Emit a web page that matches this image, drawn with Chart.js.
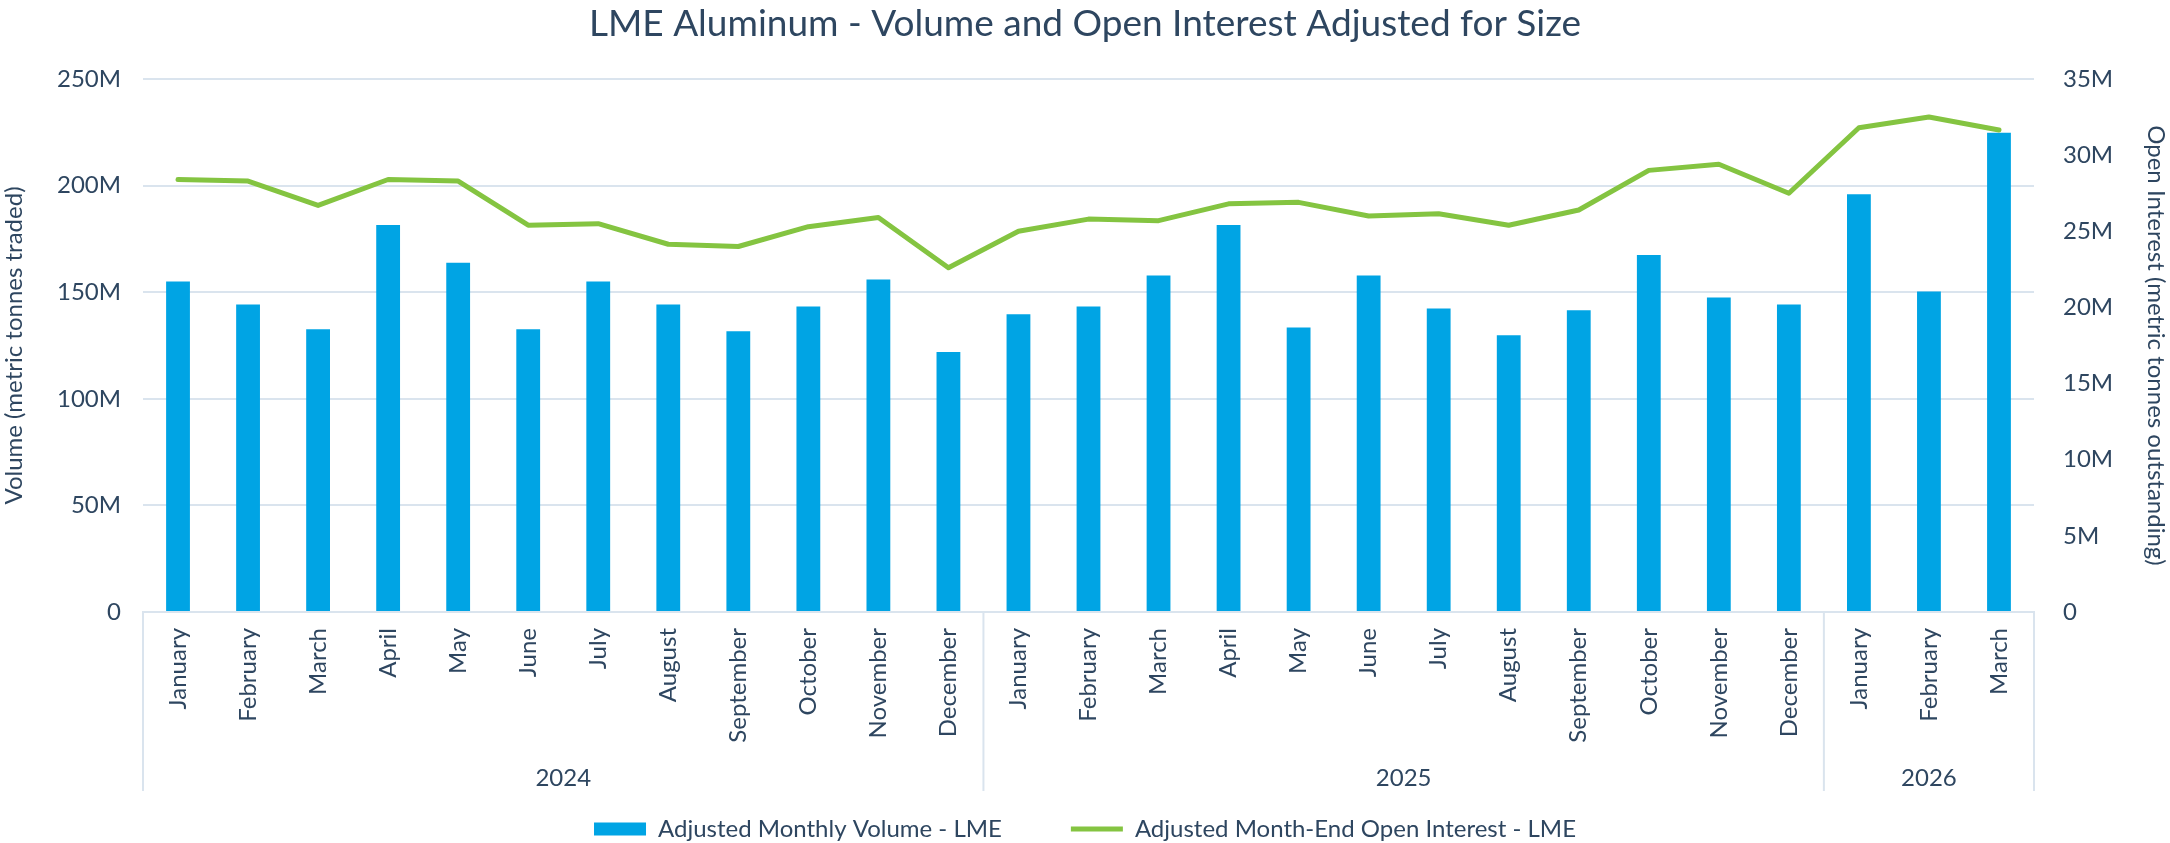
<!DOCTYPE html>
<html>
<head>
<meta charset="utf-8">
<title>LME Aluminum - Volume and Open Interest</title>
<script src="https://cdn.jsdelivr.net/npm/chart.js@4.4.1/dist/chart.umd.min.js"></script>
<style>
  html, body { margin: 0; padding: 0; background: #fff; }
  #wrap { width: 2170px; height: 843px; }
</style>
</head>
<body>
<div id="wrap"><canvas id="chart" width="2170" height="843"></canvas></div>
<script>
// month categories, with the year each one belongs to
const months = [
  'January', 'February', 'March', 'April', 'May', 'June', 'July', 'August', 'September', 'October', 'November', 'December',
  'January', 'February', 'March', 'April', 'May', 'June', 'July', 'August', 'September', 'October', 'November', 'December',
  'January', 'February', 'March'
];
const years = ['2024', '2025', '2026'];
const monthsPerYear = [12, 12, 3];

// Adjusted monthly volume (metric tonnes traded)
const volume = [
  155.0e6, 144.2e6, 132.6e6, 181.5e6, 163.8e6, 132.6e6, 155.0e6, 144.2e6, 131.7e6, 143.3e6, 155.9e6, 121.9e6,
  139.6e6, 143.3e6, 157.8e6, 181.5e6, 133.5e6, 157.8e6, 142.4e6, 129.8e6, 141.5e6, 167.5e6, 147.5e6, 144.2e6,
  196.0e6, 150.3e6, 224.8e6
];

// Adjusted month-end open interest (metric tonnes outstanding)
const openInterest = [
  28.4e6, 28.3e6, 26.7e6, 28.4e6, 28.3e6, 25.4e6, 25.5e6, 24.15e6, 24.0e6, 25.3e6, 25.9e6, 22.6e6,
  25.0e6, 25.8e6, 25.7e6, 26.8e6, 26.9e6, 26.0e6, 26.15e6, 25.4e6, 26.4e6, 29.0e6, 29.4e6, 27.5e6,
  31.8e6, 32.5e6, 31.65e6
];

const TEXT = '#2e4660';
const GRID = '#dae4ee';

Chart.defaults.font.family = 'Lato';
Chart.defaults.color = TEXT;

const fmtM = (v) => v === 0 ? '0' : (v / 1e6) + 'M';

// second row of the category axis: year names and group separators
const yearGroups = {
  id: 'yearGroups',
  afterDraw(chart) {
    const x = chart.scales.x;
    const ctx = chart.ctx;
    const top = chart.chartArea.bottom;
    const bottom = top + 179;
    const half = (x.getPixelForValue(1) - x.getPixelForValue(0)) / 2;

    ctx.save();
    ctx.strokeStyle = GRID;
    ctx.lineWidth = 2;
    ctx.fillStyle = TEXT;
    ctx.font = '24px Lato';
    ctx.textAlign = 'center';
    ctx.textBaseline = 'middle';

    let start = 0;
    years.forEach((yr, i) => {
      const end = start + monthsPerYear[i] - 1;
      const left = x.getPixelForValue(start) - half;
      const right = x.getPixelForValue(end) + half;
      ctx.beginPath();
      ctx.moveTo(left, top);
      ctx.lineTo(left, bottom);
      if (i === years.length - 1) {
        ctx.moveTo(right, top);
        ctx.lineTo(right, bottom);
      }
      ctx.stroke();
      ctx.fillText(yr, (left + right) / 2, top + 166);
      start = end + 1;
    });
    ctx.restore();
  }
};

new Chart(document.getElementById('chart'), {
  type: 'bar',
  data: {
    labels: months,
    datasets: [
      {
        label: 'Adjusted Monthly Volume - LME',
        data: volume,
        backgroundColor: '#00a4e4',
        borderWidth: 0,
        barPercentage: 0.34,
        categoryPercentage: 1,
        pointStyle: 'rect',
        yAxisID: 'y',
        order: 1
      },
      {
        type: 'line',
        label: 'Adjusted Month-End Open Interest - LME',
        data: openInterest,
        borderColor: '#84c441',
        backgroundColor: '#84c441',
        borderWidth: 5,
        borderCapStyle: 'round',
        borderJoinStyle: 'round',
        pointRadius: 0,
        pointStyle: 'line',
        tension: 0,
        yAxisID: 'y1',
        order: 0
      }
    ]
  },
  options: {
    responsive: false,
    animation: false,
    layout: { padding: { left: 0, right: 0, top: 0, bottom: -8 } },
    plugins: {
      title: {
        display: true,
        text: 'LME Aluminum - Volume and Open Interest Adjusted for Size',
        color: TEXT,
        font: { size: 37, weight: 'normal' },
        padding: { top: 2, bottom: 32.6 }
      },
      legend: {
        position: 'bottom',
        labels: {
          usePointStyle: true,
          pointStyleWidth: 52,
          boxHeight: 13,
          padding: 69,
          color: TEXT,
          font: { size: 24 },
          sort: (a, b) => a.datasetIndex - b.datasetIndex
        }
      },
      tooltip: { enabled: false }
    },
    scales: {
      x: {
        offset: true,
        grid: { display: false, drawTicks: false },
        border: { display: true, color: GRID, width: 2 },
        ticks: {
          autoSkip: false,
          minRotation: 90,
          maxRotation: 90,
          padding: 16,
          color: TEXT,
          font: { size: 24 }
        },
        afterFit: (s) => { s.height = 136; }
      },
      y: {
        position: 'left',
        min: 0,
        max: 250e6,
        ticks: { stepSize: 50e6, padding: 22, color: TEXT, font: { size: 24 }, callback: fmtM },
        grid: { color: GRID, lineWidth: 2, drawTicks: false },
        border: { display: false },
        title: {
          display: true,
          text: 'Volume (metric tonnes traded)',
          color: TEXT,
          font: { size: 24 },
          padding: { top: 0, bottom: 0 }
        },
        afterFit: (s) => { s.width = 143; }
      },
      y1: {
        position: 'right',
        min: 0,
        max: 35e6,
        ticks: { stepSize: 5e6, padding: 29, color: TEXT, font: { size: 24 }, callback: fmtM },
        grid: { display: false, drawTicks: false },
        border: { display: false },
        title: {
          display: true,
          text: 'Open Interest (metric tonnes outstanding)',
          color: TEXT,
          font: { size: 24 },
          padding: { top: 0, bottom: 0 }
        },
        afterFit: (s) => { s.width = 136; }
      }
    }
  },
  plugins: [yearGroups]
});
</script>
</body>
</html>
